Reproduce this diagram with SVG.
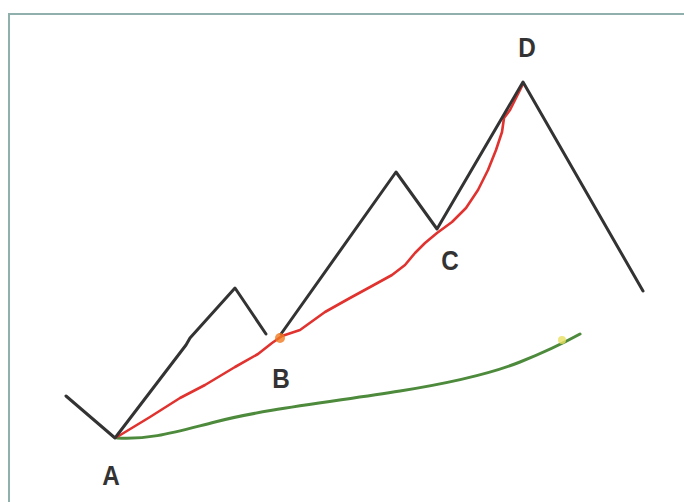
<svg xmlns="http://www.w3.org/2000/svg" width="684" height="502" viewBox="0 0 684 502">
<style>
.lbl{font-family:"Liberation Sans",Arial,sans-serif;font-weight:bold;font-size:27px;fill:#333;text-anchor:middle}
.ln{fill:none;stroke-linejoin:round;stroke-linecap:round}
</style>
<rect width="684" height="502" fill="#fff"/>
<path d="M9,520 V14 H700" fill="none" stroke="#8fb0ac" stroke-width="2"/>
<g id="connectors">
<path id="green" class="ln" stroke="#4d8a3c" stroke-width="3" d="M117,438 C150,440 175,432 215,422 C260,410 330,402 400,391 C450,383 490,374 520,362 C545,352 560,345 580,334"/>
<path id="red" class="ln" stroke="#e0322e" stroke-width="2.6" d="M117,437 L150,417 L180,398 L205,385 L235,367 L258,354 L272,343 L282,336 L300,330 L325,312 L350,298 L372,286 L392,275 L405,265 L415,253 L425,243 L437,233 L452,222 L466,208 L478,190 L488,170 L496,150 L502,132 L504,118 L510,110 L523,84"/>
<path id="black" class="ln" stroke="#333" stroke-width="3" d="M66,396 L115,438 L186,345 L190,338 L235,288 L266,334 M281,334 L396,172 L437,229 L523,82 L643,291"/>
<circle cx="280" cy="338" r="5" fill="#f07a20" opacity="0.8"/>
<circle cx="562" cy="340" r="4" fill="#e8e060" opacity="0.8"/>
</g>
<g id="A"><text class="lbl" x="111" y="485" transform="translate(111,485) scale(0.9,1) translate(-111,-485)">A</text></g>
<g id="B"><text class="lbl" x="281" y="388" transform="translate(281,388) scale(0.9,1) translate(-281,-388)">B</text></g>
<g id="C"><text class="lbl" x="450" y="270" transform="translate(450,270) scale(0.9,1) translate(-450,-270)">C</text></g>
<g id="D"><text class="lbl" x="527" y="57" transform="translate(527,57) scale(0.9,1) translate(-527,-57)">D</text></g>
</svg>
